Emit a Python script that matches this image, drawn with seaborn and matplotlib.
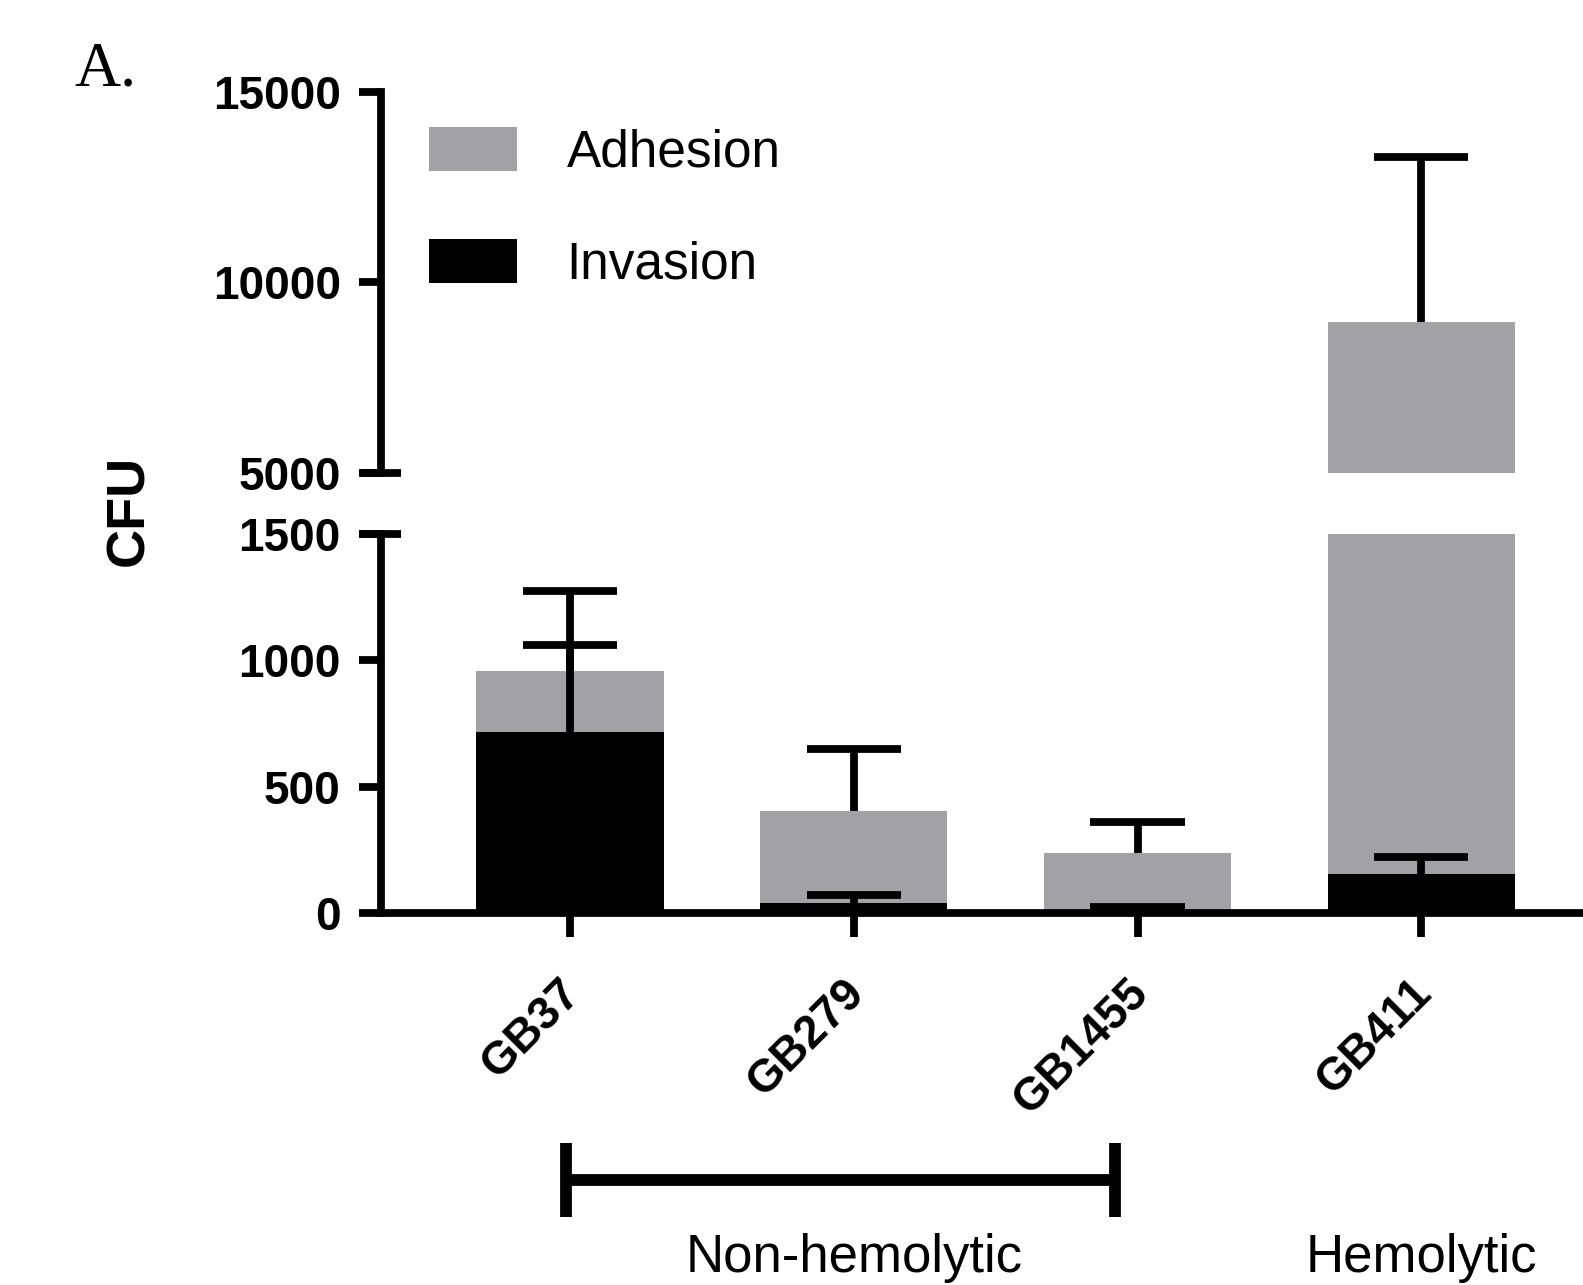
import numpy as np
import matplotlib
matplotlib.use("Agg")
import matplotlib.pyplot as plt
import matplotlib.transforms as mtransforms
from matplotlib.patches import Patch
import seaborn as sns

# ---- data ----
strains = ["GB37", "GB279", "GB1455", "GB411"]
adhesion = [956, 402, 239, 8952]
adhesion_err = [320, 247, 120, 4323]
invasion = [715, 40, 10, 154]
invasion_err = [344, 30, 12, 69]
series_labels = ["Adhesion", "Invasion"]
groups = {"Non-hemolytic": ["GB37", "GB279", "GB1455"], "Hemolytic": ["GB411"]}
top_ticks = [5000, 10000, 15000]
bottom_ticks = [0, 500, 1000, 1500]

GRAY = "#a2a1a5"
LW = 5.6

sns.set_style("ticks")
plt.rcParams["font.family"] = ["Liberation Sans", "DejaVu Sans"]
for k in ("axes.edgecolor", "text.color", "xtick.color", "ytick.color",
          "axes.labelcolor"):
    plt.rcParams[k] = "black"

fig = plt.figure(figsize=(15.83, 12.85), dpi=100)
ax_top = fig.add_axes([0.2407, 0.6317, 0.7593, 0.297])
ax_bot = fig.add_axes([0.2407, 0.2895, 0.7593, 0.2949])

pos = np.arange(len(strains))
adh = np.array(adhesion, dtype=float)
inv = np.array(invasion, dtype=float)

for ax in (ax_top, ax_bot):
    sns.barplot(x=strains, y=adhesion, color=GRAY, width=0.66, saturation=1,
                linewidth=0, errorbar=None, ax=ax, zorder=2)
    sns.barplot(x=strains, y=invasion, color="black", width=0.66, saturation=1,
                linewidth=0, errorbar=None, ax=ax, zorder=3)
    for y, e in ((adh, np.array(adhesion_err)), (inv, np.array(invasion_err))):
        ax.vlines(pos, y, y + e, color="black", lw=LW, zorder=5)
        ax.hlines(y + e, pos - 0.166, pos + 0.166, color="black", lw=LW, zorder=5)
    ax.set_xlim(-0.666, len(strains) - 1 + 0.57)
    for s in ("top", "right"):
        ax.spines[s].set_visible(False)
    ax.spines["left"].set_linewidth(LW)
    ax.spines["left"].set_color("black")
    ax.set_ylabel("")
    ax.set_xlabel("")
    ax.tick_params(axis="y", length=16, width=LW, pad=13, colors="black")

ax_top.set_ylim(5000, 15000)
ax_bot.set_ylim(0, 1500)

ax_top.spines["bottom"].set_visible(False)
ax_top.set_xticks([])
ax_bot.spines["bottom"].set_linewidth(LW)
ax_bot.spines["bottom"].set_color("black")

ax_top.set_yticks(top_ticks, labels=[str(t) for t in top_ticks],
                  fontsize=33, fontweight="bold")
ax_bot.set_yticks(bottom_ticks, labels=[str(t) for t in bottom_ticks],
                  fontsize=33, fontweight="bold")

ax_bot.set_xticks(pos, labels=strains, fontsize=33, fontweight="bold",
                  rotation=45, ha="right", rotation_mode="anchor")
ax_bot.tick_params(axis="x", length=17, width=LW, pad=25, colors="black")
offset = mtransforms.ScaledTranslation(-12 / 100, 0, fig.dpi_scale_trans)
for lab in ax_bot.get_xticklabels():
    lab.set_transform(lab.get_transform() + offset)

# axis-break marks
for ax, yv in ((ax_top, top_ticks[0]), (ax_bot, bottom_ticks[-1])):
    ax.plot([-0.0166, 0.0166], [yv, yv], transform=ax.get_yaxis_transform(),
            color="black", lw=LW, clip_on=False, solid_capstyle="butt", zorder=6)

# group annotation
xt = ax_bot.get_xaxis_transform()
for name, members in groups.items():
    idx = [strains.index(m) for m in members]
    cx = float(np.mean(idx))
    if len(idx) > 1:
        x0, x1 = min(idx) - 0.015, max(idx) - 0.08
        ax_bot.plot([x0, x1], [-0.704, -0.704], transform=xt, color="black",
                    lw=8.5, clip_on=False, solid_capstyle="butt")
        for xx in (x0, x1):
            ax_bot.plot([xx, xx], [-0.607, -0.802], transform=xt, color="black",
                        lw=8.5, clip_on=False, solid_capstyle="butt")
    ax_bot.text(cx, -0.947, name, transform=xt, ha="center", va="baseline",
                fontsize=38)

# y label and panel letter
fig.text(129 / 1583, 1 - 510 / 1285, "CFU", rotation=90, fontsize=39,
         fontweight="bold", ha="center", va="center")
fig.text(74 / 1583, 1 - 86 / 1285, "A.", fontsize=46, ha="left", va="baseline",
         family=["Liberation Serif", "DejaVu Serif"])

handles = [Patch(color=GRAY, lw=0), Patch(color="black", lw=0)]
fig.legend(handles, series_labels, loc="upper left",
           bbox_to_anchor=(429 / 1583, 1 - 127 / 1285), frameon=False,
           fontsize=37, handlelength=1.72, handleheight=0.95, handletextpad=0.96,
           labelspacing=1.19, borderpad=0, borderaxespad=0)

fig.savefig("out.png", dpi=100)
